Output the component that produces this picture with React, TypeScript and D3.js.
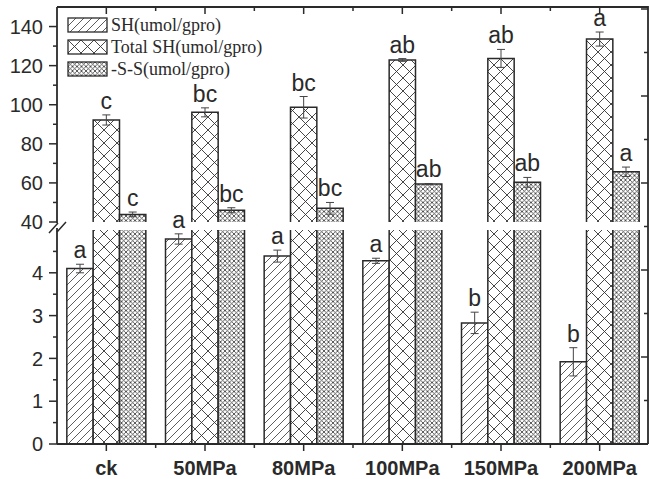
import * as d3 from 'd3'

const categories = ['ck', '50MPa', '80MPa', '100MPa', '150MPa', '200MPa']

const shMean = [4.1, 4.79, 4.39, 4.28, 2.83, 1.92]
const shErr = [0.1, 0.12, 0.14, 0.06, 0.25, 0.33]
const shSig = ['a', 'a', 'a', 'a', 'b', 'b']

const totalMean = [92.2, 96.1, 98.7, 122.9, 123.7, 133.6]
const totalErr = [2.6, 2.3, 5.5, 0.7, 4.6, 3.6]
const totalSig = ['c', 'bc', 'bc', 'ab', 'ab', 'a']

const ssMean = [43.9, 46.0, 47.0, 59.4, 60.3, 65.7]
const ssErr = [1.2, 1.3, 3.0, 0.3, 2.5, 2.4]
const ssSig = ['c', 'bc', 'bc', 'ab', 'ab', 'a']

const seriesNames = ['SH(umol/gpro)', 'Total SH(umol/gpro)', '-S-S(umol/gpro)']
const patterns = ['hatch', 'diamond', 'fine']

const lowTicks = [0, 1, 2, 3, 4]
const upTicks = [40, 60, 80, 100, 120, 140]

const W = 649
const H = 479
const LEFT = 57
const RIGHT = 648
const TOP = 7
const BOTTOM = 444
const LOW_TOP = 230
const UP_BOTTOM = 222
const INK = '#2a2a2a'
const SANS = '"Liberation Sans", Arial, sans-serif'
const SERIF = '"Liberation Serif", "Times New Roman", serif'

const x = d3.scaleBand<string>().domain(categories).range([LEFT, 649]).paddingInner(0).paddingOuter(0)
const inner = d3.scaleBand<number>().domain([0, 1, 2]).range([-39.5, 39.5])
const yLow = d3.scaleLinear([0, 5], [BOTTOM, LOW_TOP])
const yUp = d3.scaleLinear([40, 150], [UP_BOTTOM, TOP])
const yRight = d3.scaleLinear([0, 10], [BOTTOM, 9])

type Seg = { y0: number; y1: number; closedTop: boolean }

// where a bar lives on the broken axis
function segments(v: number): Seg[] {
  if (v <= 5) return [{ y0: yLow(v), y1: BOTTOM, closedTop: true }]
  return [
    { y0: LOW_TOP, y1: BOTTOM, closedTop: false },
    { y0: yUp(v), y1: UP_BOTTOM, closedTop: true },
  ]
}
const yOf = (v: number) => (v <= 5 ? yLow(v) : yUp(v))

function Bar({ cx, w, v, err, sig, pat }: { cx: number; w: number; v: number; err: number; sig: string; pat: string }) {
  const x0 = cx - w / 2
  const x1 = cx + w / 2
  const yTop = yOf(v + err)
  const yBot = yOf(v - err)
  return (
    <g>
      {segments(v).map((s, i) => (
        <g key={i}>
          <rect x={x0} y={s.y0} width={w} height={s.y1 - s.y0} fill={`url(#${pat})`} />
          <path
            d={
              s.closedTop
                ? `M${x0},${s.y1}V${s.y0}H${x1}V${s.y1}`
                : `M${x0},${s.y1}V${s.y0}M${x1},${s.y0}V${s.y1}`
            }
            fill="none"
            stroke={INK}
            strokeWidth={1.5}
          />
        </g>
      ))}
      <path
        d={`M${cx - 4},${yTop}H${cx + 4}M${cx},${yTop}V${yBot}M${cx - 4},${yBot}H${cx + 4}`}
        stroke="#444"
        strokeWidth={1}
        fill="none"
      />
      <text x={cx} y={yTop - 6} textAnchor="middle" fontFamily={SANS} fontSize={23} fill={INK}>
        {sig}
      </text>
    </g>
  )
}

export default function App() {
  const means = [shMean, totalMean, ssMean]
  const errs = [shErr, totalErr, ssErr]
  const sigs = [shSig, totalSig, ssSig]
  const bw = inner.bandwidth()
  const centers = categories.map((c) => x(c)! + x.bandwidth() / 2)
  const bounds = categories.slice(1).map((c) => x(c)!)

  return (
    <svg width={W} height={H} style={{ position: 'absolute', left: 0, top: 0, background: '#fff' }}>
      <defs>
        <pattern id="hatch" patternUnits="userSpaceOnUse" width={8} height={8}>
          <rect width={8} height={8} fill="#fff" />
          <path d="M-2,2l4,-4M0,8l8,-8M6,10l4,-4" stroke="#333" strokeWidth={0.8} />
        </pattern>
        <pattern id="diamond" patternUnits="userSpaceOnUse" width={13} height={13}>
          <rect width={13} height={13} fill="#fff" />
          <path d="M0,0L13,13M13,0L0,13" stroke="#333" strokeWidth={0.9} />
        </pattern>
        <pattern id="fine" patternUnits="userSpaceOnUse" width={4.5} height={4.5}>
          <rect width={4.5} height={4.5} fill="#fff" />
          <path d="M0,0L4.5,4.5M4.5,0L0,4.5" stroke="#333" strokeWidth={0.8} />
        </pattern>
      </defs>

      {categories.map((c, i) => (
        <g key={c}>
          {[0, 1, 2].map((k) => (
            <Bar
              key={k}
              cx={centers[i] + inner(k)! + bw / 2}
              w={bw}
              v={means[k][i]}
              err={errs[k][i]}
              sig={sigs[k][i]}
              pat={patterns[k]}
            />
          ))}
        </g>
      ))}

      {/* frame */}
      <g stroke={INK} strokeWidth={1.8} fill="none">
        <path d={`M${LEFT},${BOTTOM}H${RIGHT}`} />
        <path d={`M${LEFT},${TOP}H${RIGHT}V${BOTTOM}`} />
        <path d={`M${LEFT},${BOTTOM}V${LOW_TOP - 2}`} />
        <path d={`M${LEFT},${UP_BOTTOM + 1}V${TOP}`} />
        <path d={`M${LEFT - 8},${233}L${LEFT + 1},${223}M${LEFT},${232}L${LEFT + 9},${222}`} strokeWidth={1.5} />
      </g>

      {/* axis ticks */}
      <g stroke={INK} strokeWidth={1.5}>
        {lowTicks.map((t) => (
          <line key={'l' + t} x1={LEFT - 8} x2={LEFT} y1={yLow(t)} y2={yLow(t)} />
        ))}
        {lowTicks.map((t) => (
          <line key={'lm' + t} x1={LEFT - 4} x2={LEFT} y1={yLow(t + 0.5)} y2={yLow(t + 0.5)} />
        ))}
        {upTicks.map((t) => (
          <line key={'u' + t} x1={LEFT - 8} x2={LEFT} y1={yUp(t)} y2={yUp(t)} />
        ))}
        {upTicks.slice(0, -1).map((t) => (
          <line key={'um' + t} x1={LEFT - 4} x2={LEFT} y1={yUp(t + 10)} y2={yUp(t + 10)} />
        ))}
        {d3.range(1, 11).map((t) => (
          <line key={'r' + t} x1={RIGHT - (t % 2 === 0 ? 7 : 4)} x2={RIGHT} y1={yRight(t)} y2={yRight(t)} />
        ))}
        {centers.map((cx, i) => (
          <g key={'x' + i}>
            <line x1={cx} x2={cx} y1={BOTTOM} y2={BOTTOM + 7} />
            <line x1={cx} x2={cx} y1={TOP} y2={TOP + 7} />
          </g>
        ))}
        {bounds.map((bx, i) => (
          <g key={'xm' + i}>
            <line x1={bx} x2={bx} y1={BOTTOM} y2={BOTTOM + 4} />
            <line x1={bx} x2={bx} y1={TOP} y2={TOP + 4} />
          </g>
        ))}
      </g>

      <g fontFamily={SANS} fontSize={20} fill={INK} textAnchor="end">
        {lowTicks.map((t) => (
          <text key={t} x={43} y={yLow(t)} dy="0.36em">
            {t}
          </text>
        ))}
        {upTicks.map((t) => (
          <text key={t} x={43} y={yUp(t)} dy="0.36em">
            {t}
          </text>
        ))}
      </g>

      <g fontFamily={SANS} fontSize={20} fontWeight="bold" fill={INK} textAnchor="middle">
        {categories.map((c, i) => (
          <text key={c} x={centers[i]} y={475}>
            {c}
          </text>
        ))}
      </g>

      {/* legend */}
      <g>
        {seriesNames.map((n, i) => (
          <g key={n} transform={`translate(68,${18 + i * 22})`}>
            <rect width={39} height={14} fill={`url(#${patterns[i]})`} stroke={INK} strokeWidth={1.3} />
            <text x={43} y={13} fontFamily={SERIF} fontSize={18} fill={INK}>
              {n}
            </text>
          </g>
        ))}
      </g>
    </svg>
  )
}
